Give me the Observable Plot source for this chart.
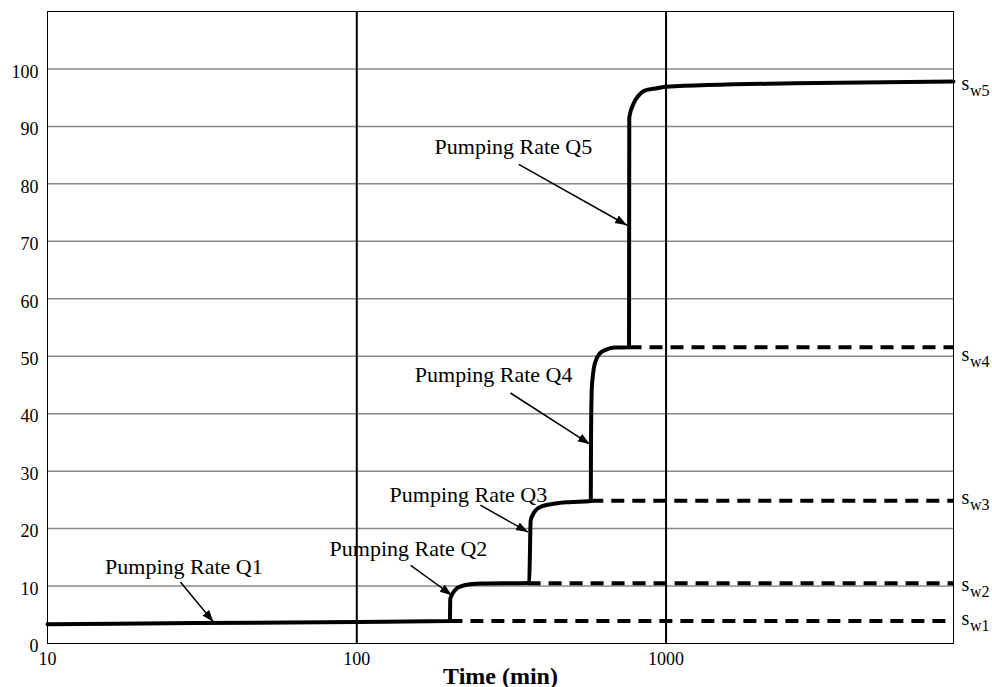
<!DOCTYPE html>
<html>
<head>
<meta charset="utf-8">
<script src="https://cdn.jsdelivr.net/npm/d3@7"></script>
<script src="https://cdn.jsdelivr.net/npm/@observablehq/plot@0.6"></script>
<style>
  html, body { margin: 0; padding: 0; background: #fff; }
  #chart svg { display: block; }
</style>
</head>
<body>
<div id="chart"></div>
<script>
// ---- Data ----
// Axis ticks
const xTicks = [10, 100, 1000];
const yTicks = [0, 10, 20, 30, 40, 50, 60, 70, 80, 90, 100];
const yGrid = [10, 20, 30, 40, 50, 60, 70, 80, 90, 100];
const xGrid = [100, 1000];
const xDomain = [10, 8500];
const yDomain = [0, 110];

// Drawdown curve (time in minutes, drawdown)
const curveTime = [10, 30, 100, 200, 200.6, 208, 218, 232, 256, 358,
  361, 365, 370, 379, 398, 438, 484, 571,
  572, 575, 581, 588, 610, 641, 681, 759,
  760.5, 789, 810, 849, 936, 1000, 2594, 8500];
const curveDrawdown = [3.35, 3.55, 3.75, 3.9, 7.8, 9.3, 10.0, 10.3, 10.45, 10.55,
  10.6, 21.45, 22.3, 23.2, 23.9, 24.36, 24.6, 24.8,
  35.4, 44.1, 47.0, 48.7, 50.45, 51.15, 51.5, 51.55,
  91.6, 94.2, 95.2, 96.2, 96.65, 96.9, 97.5, 97.8];

// Extrapolated (dashed) drawdown levels
const levelStart = [200, 358, 571, 759];
const levelValue = [3.9, 10.5, 24.85, 51.55];

// Right-hand labels s_w1..s_w5
const swSub = ["w1", "w2", "w3", "w4", "w5"];
const swY = [3.86, 9.8, 25.0, 49.8, 97.0];

// Annotations
const annotText = ["Pumping Rate Q1", "Pumping Rate Q2", "Pumping Rate Q3", "Pumping Rate Q4", "Pumping Rate Q5"];
const annotTime = [27.6, 146.9, 229.6, 277, 321];
const annotDrawdown = [12.18, 15.19, 24.63, 45.5, 85.25];
const arrowFromTime = [26.9, 149.4, 251, 314, 334];
const arrowFromDrawdown = [10.7, 13.6, 24.07, 43.6, 83.4];
const arrowToTime = [34.4, 203, 358, 567, 748];
const arrowToDrawdown = [3.76, 8.4, 19.4, 34.7, 72.8];

// ---- Tables built from the arrays ----
const curve = curveTime.map((t, i) => ({t, s: curveDrawdown[i]}));
const levels = levelStart.map((t, i) => ({t, end: xDomain[1], s: levelValue[i]}));
const swLabels = swSub.map((sub, i) => ({sub, x: xDomain[1], y: swY[i]}));
const annots = annotText.map((label, i) => ({label, t: annotTime[i], s: annotDrawdown[i]}));
const arrows = annotText.map((label, i) => ({
  x1: arrowFromTime[i], y1: arrowFromDrawdown[i], x2: arrowToTime[i], y2: arrowToDrawdown[i]
}));

const serif = "'Liberation Serif', 'Times New Roman', Times, serif";

const plot = Plot.plot({
  width: 992,
  height: 687,
  marginLeft: 47,
  marginRight: 39,
  marginTop: 11,
  marginBottom: 44,
  style: {fontFamily: serif, fontSize: "18px", color: "#000", background: "#fff", overflow: "visible"},
  x: {type: "log", domain: xDomain},
  y: {domain: yDomain},
  marks: [
    Plot.ruleY(yGrid, {stroke: "#888", strokeWidth: 1.5}),
    Plot.ruleX(xGrid, {stroke: "#000", strokeWidth: 2}),
    Plot.frame({stroke: "#000", strokeWidth: 1}),
    Plot.axisX({ticks: xTicks, tickFormat: d => String(d), tickSize: 0, tickPadding: 9, label: null, fontSize: 18}),
    Plot.axisY({ticks: yTicks, tickFormat: d => String(d), tickSize: 0, tickPadding: 9, label: null, fontSize: 18, dy: 3}),
    Plot.ruleY(levels, {y: "s", x1: "t", x2: "end", stroke: "#000", strokeWidth: 4, strokeDasharray: "13,8"}),
    Plot.line(curve, {x: "t", y: "s", stroke: "#000", strokeWidth: 4, curve: "monotone-x", strokeLinejoin: "round"}),
    Plot.link(arrows, {x1: "x1", y1: "y1", x2: "x2", y2: "y2", stroke: "#000", strokeWidth: 1.5, markerEnd: "arrow"}),
    Plot.text(annots, {x: "t", y: "s", text: "label", textAnchor: "middle", lineAnchor: "bottom", fontSize: 22}),
    Plot.text(swLabels, {x: "x", y: "y", text: () => "s", textAnchor: "start", lineAnchor: "bottom", dx: 8, dy: 4, fontSize: 20}),
    Plot.text(swLabels, {x: "x", y: "y", text: "sub", textAnchor: "start", lineAnchor: "bottom", dx: 16.5, dy: 10, fontSize: 16}),
    Plot.text(["Time (min)"], {frameAnchor: "bottom", lineAnchor: "bottom", dy: 40, fontSize: 24, fontWeight: "bold"})
  ]
});

// Filled arrowheads
d3.select(plot).selectAll("marker").each(function () {
  const m = d3.select(this);
  m.attr("viewBox", "-10 -5 10 10")
    .attr("refX", 0).attr("refY", 0)
    .attr("markerWidth", 8).attr("markerHeight", 8)
    .attr("fill", "#000").attr("stroke", "none");
  m.selectAll("*").remove();
  m.append("path").attr("d", "M-10,-3.6L0,0L-10,3.6Z");
});

document.getElementById("chart").append(plot);
</script>
</body>
</html>
